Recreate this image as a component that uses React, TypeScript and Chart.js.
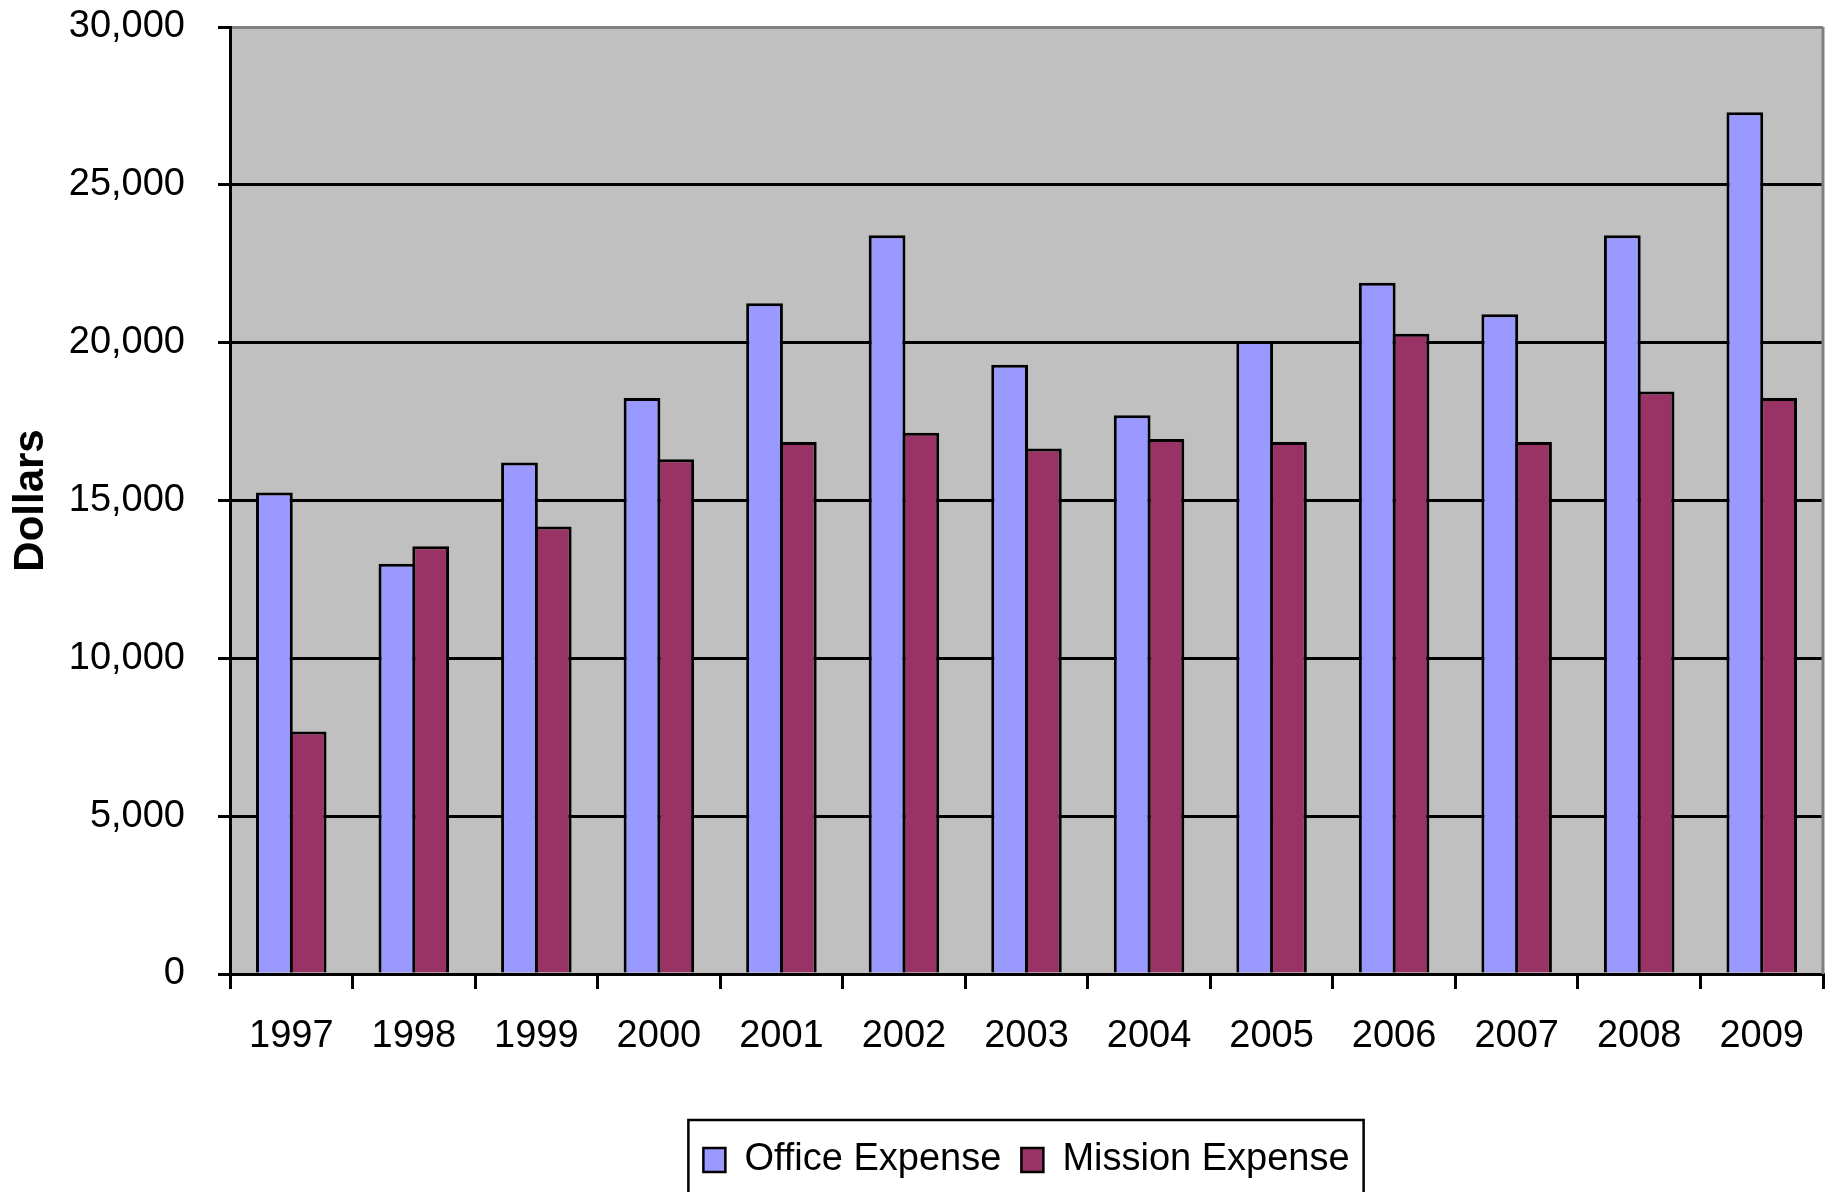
import React, { useEffect, useRef } from "react";
import { Chart, registerables } from "chart.js";

Chart.register(...registerables);

const years = ["1997", "1998", "1999", "2000", "2001", "2002", "2003", "2004", "2005", "2006", "2007", "2008", "2009"];
const officeExpense = [15250, 13000, 16200, 18250, 21250, 23400, 19300, 17700, 20050, 21900, 20900, 23400, 27300];
const missionExpense = [7680, 13550, 14180, 16310, 16850, 17150, 16650, 16950, 16850, 20280, 16850, 18450, 18250];
const yTicks = [0, 5000, 10000, 15000, 20000, 25000, 30000];

const FONT = "'Liberation Sans', Arial, sans-serif";

const plotBgPlugin = {
  id: "plotBg",
  beforeDraw(chart: any) {
    const { ctx, chartArea } = chart;
    ctx.save();
    ctx.fillStyle = "#C0C0C0";
    ctx.fillRect(chartArea.left, chartArea.top, chartArea.right - chartArea.left, chartArea.bottom - chartArea.top);
    ctx.restore();
  },
  afterDraw(chart: any) {
    const { ctx, chartArea } = chart;
    ctx.save();
    ctx.strokeStyle = "#808080";
    ctx.lineWidth = 3;
    ctx.beginPath();
    ctx.moveTo(chartArea.right, chartArea.top);
    ctx.lineTo(chartArea.right, chartArea.bottom);
    ctx.stroke();
    // legend frame
    const boxes = chart.legend && chart.legend.legendHitBoxes;
    if (boxes && boxes.length) {
      const first = boxes[0];
      const last = boxes[boxes.length - 1];
      const left = first.left - 15;
      const right = last.left + last.width + 14;
      const cy = first.top + first.height / 2;
      const top = cy - 40;
      const bottom = cy + 44;
      ctx.strokeStyle = "#000";
      ctx.lineWidth = 2.5;
      ctx.strokeRect(left, top, right - left, bottom - top);
    }
    ctx.restore();
  },
};

export default function App() {
  const ref = useRef<HTMLCanvasElement | null>(null);
  useEffect(() => {
    if (!ref.current) return;
    const chart = new Chart(ref.current, {
      type: "bar",
      data: {
        labels: years,
        datasets: [
          {
            label: "Office Expense",
            data: officeExpense,
            backgroundColor: "#9999FF",
            borderColor: "#000000",
            borderWidth: 3,
            borderSkipped: "start",
            categoryPercentage: 0.551,
            barPercentage: 1.089,
          },
          {
            label: "Mission Expense",
            data: missionExpense,
            backgroundColor: "#993366",
            borderColor: "#000000",
            borderWidth: 3,
            borderSkipped: "start",
            categoryPercentage: 0.551,
            barPercentage: 1.089,
          },
        ],
      },
      options: {
        responsive: false,
        animation: false,
        events: [],
        layout: { padding: { left: 0, right: 9, top: 27, bottom: 3 } },
        plugins: {
          tooltip: { enabled: false },
          legend: {
            display: true,
            position: "bottom",
            fullSize: false,
            labels: {
              font: { family: FONT, size: 38 },
              color: "#000",
              boxWidth: 22,
              boxHeight: 24,
              padding: 20,
              generateLabels: (chart: any) =>
                chart.data.datasets.map((ds: any, i: number) => ({
                  text: ds.label,
                  fillStyle: ds.backgroundColor,
                  strokeStyle: "#000",
                  lineWidth: 2.5,
                  datasetIndex: i,
                  hidden: false,
                  fontColor: "#000",
                })),
            },
          },
        },
        scales: {
          x: {
            grid: {
              offset: true,
              drawOnChartArea: false,
              drawTicks: true,
              tickLength: 15,
              color: "#000",
              lineWidth: 3,
            },
            border: { color: "#000", width: 3 },
            ticks: { font: { family: FONT, size: 38 }, color: "#000", padding: 25, maxRotation: 0 },
            afterFit: (scale: any) => {
              scale.height = 147;
              scale.paddingLeft = 0;
              scale.paddingRight = 0;
            },
          },
          y: {
            min: 0,
            max: 30000,
            afterBuildTicks: (scale: any) => {
              scale.ticks = yTicks.map((v) => ({ value: v }));
            },
            ticks: {
              font: { family: FONT, size: 38 },
              color: "#000",
              padding: 33,
              callback: (v: any) => Number(v).toLocaleString("en-US"),
            },
            grid: {
              color: (ctx: any) => (ctx.tick && ctx.tick.value === 30000 ? "#808080" : "#000"),
              tickColor: "#000",
              lineWidth: 3,
              tickLength: 12,
            },
            border: { color: "#000", width: 3 },
            title: {
              display: true,
              text: "Dollars",
              font: { family: FONT, size: 42, weight: "bold" },
              color: "#000",
              padding: { top: 6, bottom: 0 },
            },
            afterFit: (scale: any) => {
              scale.width = 230;
              scale.paddingTop = 0;
              scale.paddingBottom = 0;
            },
          },
        },
      },
      plugins: [plotBgPlugin],
    } as any);
    return () => chart.destroy();
  }, []);
  return (
    <div style={{ position: "fixed", left: 0, top: 0, width: 1832, height: 1192, background: "#fff" }}>
      <canvas ref={ref} width={1832} height={1192} style={{ display: "block" }} />
    </div>
  );
}
